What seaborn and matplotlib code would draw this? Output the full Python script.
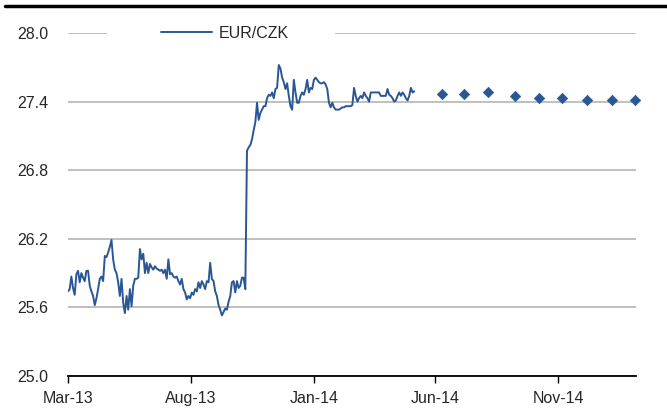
import seaborn as sns
import pandas as pd
import matplotlib.pyplot as plt
import matplotlib.dates as mdates
from matplotlib.lines import Line2D
from matplotlib.patches import Rectangle

# daily EUR/CZK (roughly every two days)
spot_start = "2013-03-01"
spot_end = "2014-05-06"
spot_values = [
    25.74, 25.76, 25.87, 25.77, 25.71, 25.89, 25.92, 25.82, 25.90, 25.86,
    25.83, 25.92, 25.92, 25.79, 25.74, 25.70, 25.62, 25.68, 25.76, 25.85,
    25.87, 25.83, 26.05, 26.04, 26.08, 26.13, 26.19, 26.02, 25.93, 25.90,
    25.82, 25.70, 25.85, 25.64, 25.55, 25.70, 25.58, 25.76, 25.61, 25.79,
    25.85, 25.85, 25.86, 26.11, 26.02, 26.07, 25.90, 25.99, 25.90, 25.98,
    25.95, 25.93, 25.96, 25.94, 25.93, 25.92,
    25.93, 25.90, 25.93, 25.85, 26.02, 25.89, 25.90, 25.87, 25.86, 25.87,
    25.83, 25.80, 25.85, 25.76, 25.73, 25.67, 25.70, 25.68, 25.73, 25.71,
    25.76, 25.74, 25.82, 25.77, 25.83, 25.80, 25.76, 25.83, 25.82, 25.99,
    25.85, 25.83, 25.74, 25.70, 25.62, 25.58, 25.53, 25.56, 25.59, 25.58,
    25.65, 25.70, 25.82, 25.83, 25.73, 25.83, 25.77, 25.79, 25.86, 25.86,
    25.76,
    26.97, 27.00, 27.02, 27.07, 27.15, 27.22, 27.39, 27.24, 27.30, 27.33,
    27.36, 27.36, 27.43, 27.46, 27.45, 27.48, 27.43, 27.51, 27.52, 27.72,
    27.69, 27.61, 27.57, 27.51, 27.56, 27.45, 27.36, 27.33, 27.59, 27.48,
    27.39, 27.39, 27.45, 27.48, 27.46, 27.51, 27.59, 27.48, 27.52, 27.51,
    27.59, 27.61, 27.59, 27.57, 27.56, 27.56, 27.57, 27.55, 27.51, 27.39,
    27.35, 27.39, 27.35, 27.33, 27.33, 27.33, 27.34, 27.35, 27.35, 27.36,
    27.36, 27.36, 27.36, 27.37, 27.52, 27.45, 27.40, 27.43, 27.45, 27.43,
    27.48, 27.45, 27.43, 27.40, 27.48, 27.48, 27.48, 27.48, 27.48, 27.48,
    27.45, 27.45, 27.45, 27.45, 27.51, 27.46, 27.45, 27.43, 27.40, 27.41,
    27.45, 27.48, 27.45, 27.48, 27.46, 27.43, 27.41, 27.45, 27.52, 27.48,
    27.49,
]

# forecast points (diamonds)
fc_dates = ["2014-06-10", "2014-07-07", "2014-08-06", "2014-09-08", "2014-10-08",
            "2014-11-06", "2014-12-07", "2015-01-07", "2015-02-05"]
fc_values = [27.47, 27.47, 27.48, 27.45, 27.43, 27.43, 27.41, 27.41, 27.41]

x_ticks = ["2013-03-01", "2013-08-01", "2014-01-01", "2014-06-01", "2014-11-01"]
y_ticks = [25.0, 25.6, 26.2, 26.8, 27.4, 28.0]

spot = pd.DataFrame({
    "date": pd.date_range(spot_start, spot_end, periods=len(spot_values)),
    "rate": spot_values,
})
fc = pd.DataFrame({"date": pd.to_datetime(fc_dates), "rate": fc_values})

sns.set_style("white")
plt.rcParams["font.family"] = ["Liberation Sans", "DejaVu Sans"]

blue = "#2a5794"

fig, ax = plt.subplots(figsize=(6.67, 4.12), dpi=100)
fig.subplots_adjust(left=68 / 667, right=636 / 667, bottom=1 - 376 / 412, top=1 - 33 / 412)

sns.lineplot(data=spot, x="date", y="rate", ax=ax, color=blue, linewidth=1.4, label="EUR/CZK")
sns.scatterplot(data=fc, x="date", y="rate", ax=ax, marker="D", s=28, color=blue,
                edgecolor=blue, linewidth=0.5, legend=False, zorder=5, clip_on=False)

ax.set_xlim(pd.Timestamp("2013-03-01"), pd.Timestamp("2015-02-06"))
ax.set_ylim(25.0, 28.0)
ax.set_yticks(y_ticks)
ax.set_yticklabels([f"{v:.1f}" for v in y_ticks])
ax.set_xticks(pd.to_datetime(x_ticks))
ax.xaxis.set_major_formatter(mdates.DateFormatter("%b-%y"))
ax.set_xlabel("")
ax.set_ylabel("")

ax.yaxis.grid(True, color="#bfbfbf", linewidth=1.4)
ax.xaxis.grid(False)
ax.set_axisbelow(True)

for s in ["left", "right", "top"]:
    ax.spines[s].set_visible(False)
ax.spines["bottom"].set_color("black")
ax.spines["bottom"].set_linewidth(1.3)

ax.tick_params(axis="x", direction="out", length=5, width=1, color="black",
               labelsize=11.5, pad=6, bottom=True)
ax.tick_params(axis="y", length=0, labelsize=11.5, pad=14)

# white gap in the top gridline behind the legend
ax.add_patch(Rectangle((0.069, 0.985), 0.401, 0.03, transform=ax.transAxes,
                       facecolor="white", edgecolor="none", zorder=1.5, clip_on=False))
ax.legend(loc="center", bbox_to_anchor=(0.276, 1.0), frameon=False, fontsize=11.5,
          handlelength=3.2, handletextpad=0.4)

# black rule across the top
fig.add_artist(Line2D([5 / 667, 1], [1 - 6 / 412, 1 - 6 / 412], color="black",
                      linewidth=2.5, transform=fig.transFigure))

plt.savefig("out.png", dpi=100)
